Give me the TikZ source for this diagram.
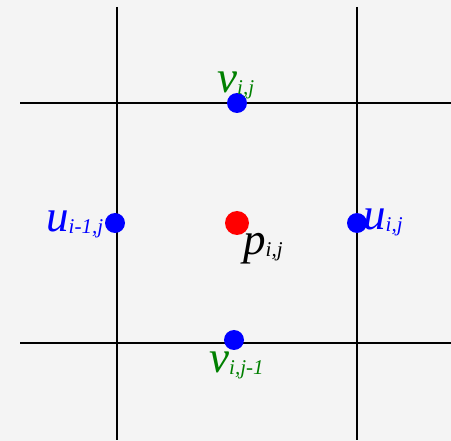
\documentclass[tikz,border=0pt]{standalone}
\usepackage{fontspec}
\setmainfont{Liberation Serif}
\definecolor{bg}{RGB}{244,244,244}
\definecolor{vgreen}{RGB}{0,128,0}
\begin{document}
\begin{tikzpicture}[x=1pt,y=-1pt,
  gridline/.style={line width=2pt,black},
  udot/.style={circle,fill=blue,inner sep=0,minimum size=20pt},
  pdot/.style={circle,fill=red,inner sep=0,minimum size=24pt},
  lbl/.style={anchor=base west,inner sep=0},
]
\fill[bg] (0,0) rectangle (451,441);
\useasboundingbox (0,0) rectangle (451,441);
\newcommand{\bigtxt}[2]{{\fontsize{45}{45}\selectfont\itshape #1}{\fontsize{21}{23}\selectfont\itshape\raisebox{-2pt}{#2}}}
% grid
\coordinate (vl1t) at (117,7);   \coordinate (vl1b) at (117,440);
\coordinate (vl2t) at (357,7);   \coordinate (vl2b) at (357,440);
\coordinate (hl1l) at (20,103);  \coordinate (hl1r) at (451,103);
\coordinate (hl2l) at (20,343);  \coordinate (hl2r) at (451,343);
\draw[gridline] (vl1t) -- (vl1b);
\draw[gridline] (vl2t) -- (vl2b);
\draw[gridline] (hl1l) -- (hl1r);
\draw[gridline] (hl2l) -- (hl2r);
% dots
\node[udot] (vtop) at (237,103) {};
\node[udot] (uleft) at (115,223) {};
\node[udot] (uright) at (357,223) {};
\node[udot] (vbot) at (234,340) {};
\node[pdot] (p) at (237,223) {};
% labels
\node[lbl,text=vgreen] (lvtop) at (217,93) {\bigtxt{v}{i,j}};
\node[lbl,text=blue] (luleft) at (46,232) {\bigtxt{u}{i-1,j}};
\node[lbl,text=blue] (luright) at (363,230) {\bigtxt{u}{i,j}};
\node[lbl,text=black] (lp) at (243,255) {\bigtxt{p}{i,j}};
\node[lbl,text=vgreen] (lvbot) at (209,373) {\bigtxt{v}{i,j-1}};
\end{tikzpicture}
\end{document}
